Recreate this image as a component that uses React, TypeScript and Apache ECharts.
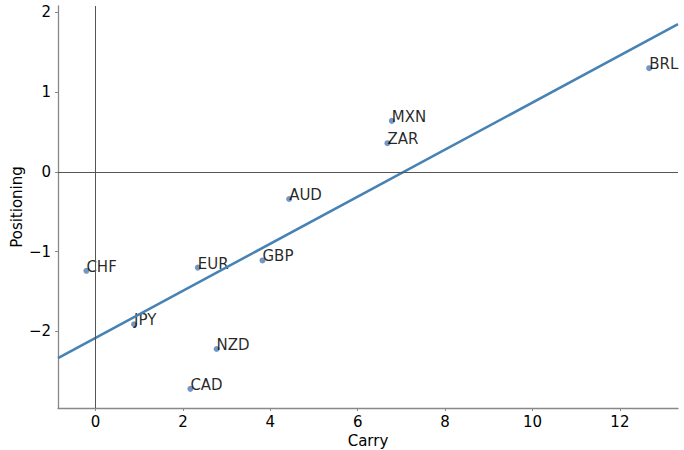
import { useEffect, useRef } from "react";
import * as echarts from "echarts";

const currencies = ["BRL", "MXN", "ZAR", "AUD", "GBP", "EUR", "CHF", "JPY", "NZD", "CAD"];
const carry = [12.67, 6.78, 6.68, 4.43, 3.82, 2.34, -0.21, 0.88, 2.77, 2.17];
const positioning = [1.3, 0.64, 0.36, -0.34, -1.11, -1.2, -1.24, -1.91, -2.22, -2.72];
const xTicks = [0, 2, 4, 6, 8, 10, 12];
const yTicks = [-2, -1, 0, 1, 2];
const xRange = [-0.86, 13.33];
const yRange = [-2.96, 2.08];
const fitIntercept = -2.08;
const fitSlope = 0.295;

const FONT = "DejaVu Sans";
const FS = 15;

export default function App() {
  const ref = useRef<HTMLDivElement>(null);
  useEffect(() => {
    if (!ref.current) return;
    const chart = echarts.init(ref.current, undefined, { renderer: "svg" });
    const points = carry.map((c, i) => [c, positioning[i], currencies[i]]);
    const fit = [xRange[0], xRange[1]].map((x) => [x, fitIntercept + fitSlope * x]);
    const minus = (v: number) => String(v).replace("-", "\u2212");
    chart.setOption({
      animation: false,
      grid: { left: 58, right: 6, top: 6, bottom: 42, containLabel: false, outerBoundsMode: "none" },
      xAxis: {
        type: "value",
        min: xRange[0],
        max: xRange[1],
        name: "Carry",
        nameLocation: "middle",
        nameGap: 25,
        nameMoveOverlap: false,
        nameTextStyle: { fontFamily: FONT, fontSize: FS, color: "#000" },
        axisLine: { show: true, onZero: false, lineStyle: { color: "#888", width: 1.3 } },
        axisTick: { show: true, length: 3, customValues: xTicks, lineStyle: { color: "#888" } },
        axisLabel: {
          customValues: xTicks,
          margin: 6,
          fontFamily: FONT,
          fontSize: FS,
          color: "#000",
          formatter: (v: number) => minus(v),
        },
        splitLine: { show: false },
      },
      yAxis: {
        type: "value",
        min: yRange[0],
        max: yRange[1],
        name: "Positioning",
        nameLocation: "middle",
        nameGap: 34,
        nameMoveOverlap: false,
        nameTextStyle: { fontFamily: FONT, fontSize: FS, color: "#000" },
        axisLine: { show: true, onZero: false, lineStyle: { color: "#888", width: 1.3 } },
        axisTick: { show: true, length: 3, customValues: yTicks, lineStyle: { color: "#888" } },
        axisLabel: {
          customValues: yTicks,
          margin: 7,
          fontFamily: FONT,
          fontSize: FS,
          color: "#000",
          formatter: (v: number) => minus(v),
        },
        splitLine: { show: false },
      },
      series: [
        {
          type: "scatter",
          data: points,
          symbolSize: 6,
          itemStyle: { color: "#5a84bd", opacity: 0.85 },
          label: {
            show: true,
            formatter: (p: any) => p.data[2],
            position: [3, 6.5],
            align: "left",
            verticalAlign: "bottom",
            fontFamily: FONT,
            fontSize: FS,
            color: "#000",
          },
          markLine: {
            silent: true,
            symbol: "none",
            label: { show: false },
            lineStyle: { color: "#555", width: 1, type: "solid" },
            data: [{ xAxis: 0 }, { yAxis: 0 }],
          },
          z: 3,
        },
        {
          type: "line",
          data: fit,
          showSymbol: false,
          lineStyle: { color: "#4682b4", width: 2.5 },
          z: 4,
        },
      ],
    });
    return () => chart.dispose();
  }, []);
  return (
    <div
      ref={ref}
      style={{ position: "absolute", left: 0, top: 0, width: 684, height: 450, background: "#fff" }}
    />
  );
}
